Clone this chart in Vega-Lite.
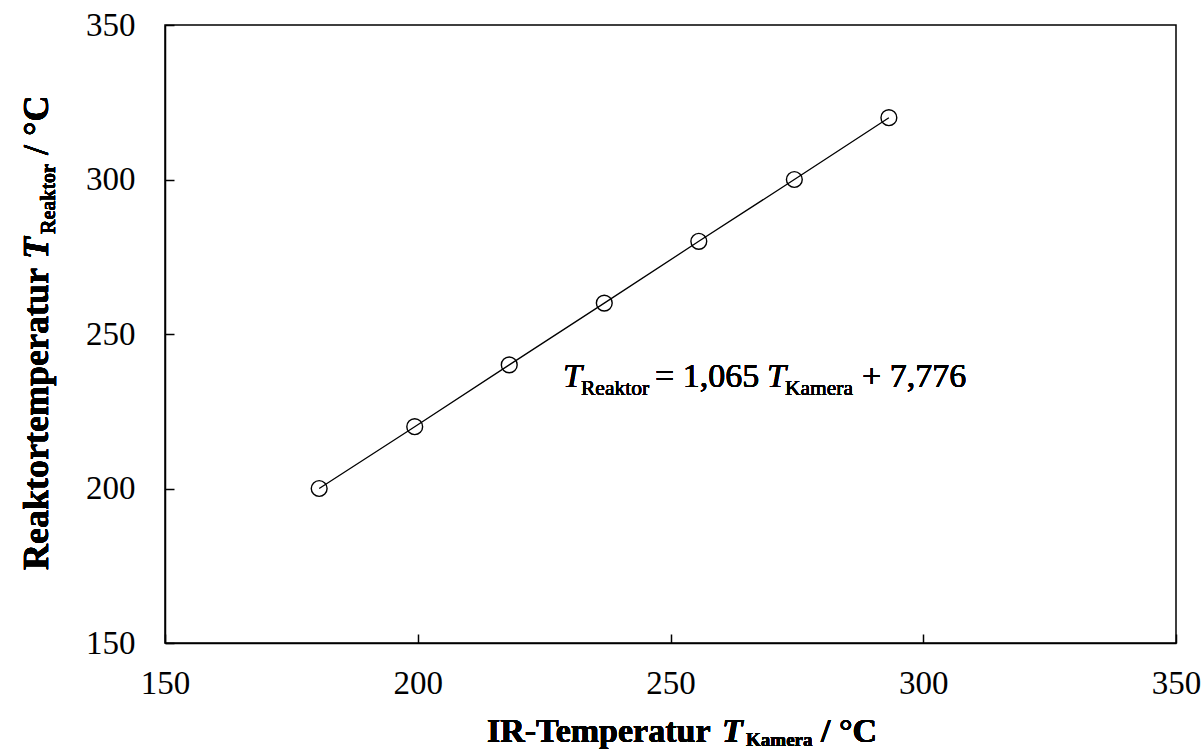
{
  "$schema": "https://vega.github.io/schema/vega-lite/v6.json",
  "width": 1011,
  "height": 618,
  "autosize": "none",
  "padding": {"left": 165, "top": 25, "right": 28, "bottom": 108},
  "background": "white",
  "config": {
    "view": {"stroke": "black", "strokeWidth": 1.5},
    "axis": {
      "domainColor": "black", "domainWidth": 1.5,
      "ticks": true,
      "tickColor": "black", "tickWidth": 1.5, "tickSize": -9,
      "labelFont": "Liberation Serif", "labelFontSize": 33, "labelColor": "black",
      "grid": false, "labelFlush": false, "labelOverlap": false
    },
    "text": {"font": "Liberation Serif", "color": "black"}
  },
  "data": {"values": [
    {"Tk": 180.5, "Tr": 200},
    {"Tk": 199.4, "Tr": 220},
    {"Tk": 218.1, "Tr": 240},
    {"Tk": 236.9, "Tr": 260},
    {"Tk": 255.6, "Tr": 280},
    {"Tk": 274.5, "Tr": 300},
    {"Tk": 293.2, "Tr": 320}
  ]},
  "layer": [
    {
      "mark": {"type": "line", "color": "black", "strokeWidth": 1.3},
      "encoding": {
        "x": {"field": "Tk", "type": "quantitative", "title": null,
              "scale": {"domain": [150, 350], "nice": false, "zero": false},
              "axis": {"values": [150, 200, 250, 300, 350], "labelPadding": 33}},
        "y": {"field": "Tr", "type": "quantitative", "title": null,
              "scale": {"domain": [150, 350], "nice": false, "zero": false},
              "axis": {"values": [150, 200, 250, 300, 350], "labelPadding": 39}}
      }
    },
    {
      "mark": {"type": "point", "shape": "circle", "filled": false, "stroke": "black", "strokeWidth": 1.4, "size": 250, "opacity": 1},
      "encoding": {
        "x": {"field": "Tk", "type": "quantitative", "title": null},
        "y": {"field": "Tr", "type": "quantitative", "title": null}
      }
    },
    {
      "mark": {"type": "text", "text": "T", "fontSize": 34, "fontStyle": "italic", "align": "left", "baseline": "alphabetic"},
      "encoding": {"x": {"datum": 228.73, "title": null}, "y": {"datum": 232.85, "title": null}}
    },
    {
      "mark": {"type": "text", "text": "Reaktor", "fontSize": 21.5, "align": "left", "baseline": "alphabetic", "dy": 8},
      "encoding": {"x": {"datum": 232.3, "title": null}, "y": {"datum": 232.85, "title": null}}
    },
    {
      "mark": {"type": "text", "text": "= 1,065", "fontSize": 34, "align": "left", "baseline": "alphabetic"},
      "encoding": {"x": {"datum": 246.93, "title": null}, "y": {"datum": 232.85, "title": null}}
    },
    {
      "mark": {"type": "text", "text": "T", "fontSize": 34, "fontStyle": "italic", "align": "left", "baseline": "alphabetic"},
      "encoding": {"x": {"datum": 269.09, "title": null}, "y": {"datum": 232.85, "title": null}}
    },
    {
      "mark": {"type": "text", "text": "Kamera", "fontSize": 21.5, "align": "left", "baseline": "alphabetic", "dy": 8},
      "encoding": {"x": {"datum": 272.65, "title": null}, "y": {"datum": 232.85, "title": null}}
    },
    {
      "mark": {"type": "text", "text": "+ 7,776", "fontSize": 34, "align": "left", "baseline": "alphabetic"},
      "encoding": {"x": {"datum": 287.88, "title": null}, "y": {"datum": 232.85, "title": null}}
    },
    {
      "mark": {"type": "text", "text": "IR-Temperatur", "fontSize": 34, "fontWeight": "bold", "align": "left", "baseline": "alphabetic", "dy": 99},
      "encoding": {"x": {"datum": 213.7, "title": null}, "y": {"datum": 150, "title": null}}
    },
    {
      "mark": {"type": "text", "text": "T", "fontSize": 34, "fontWeight": "bold", "fontStyle": "italic", "align": "left", "baseline": "alphabetic", "dy": 99},
      "encoding": {"x": {"datum": 260.19, "title": null}, "y": {"datum": 150, "title": null}}
    },
    {
      "mark": {"type": "text", "text": "Kamera", "fontSize": 19, "fontWeight": "bold", "align": "left", "baseline": "alphabetic", "dy": 103},
      "encoding": {"x": {"datum": 264.94, "title": null}, "y": {"datum": 150, "title": null}}
    },
    {
      "mark": {"type": "text", "text": "/ °C", "fontSize": 34, "fontWeight": "bold", "align": "left", "baseline": "alphabetic", "dy": 99},
      "encoding": {"x": {"datum": 279.77, "title": null}, "y": {"datum": 150, "title": null}}
    },
    {
      "mark": {"type": "text", "text": "Reaktortemperatur", "fontSize": 36, "fontWeight": "bold", "angle": 270, "align": "left", "baseline": "alphabetic", "dy": -117},
      "encoding": {"x": {"datum": 150, "title": null}, "y": {"datum": 173.62, "title": null}}
    },
    {
      "mark": {"type": "text", "text": "T", "fontSize": 36, "fontWeight": "bold", "fontStyle": "italic", "angle": 270, "align": "left", "baseline": "alphabetic", "dy": -117},
      "encoding": {"x": {"datum": 150, "title": null}, "y": {"datum": 274.27, "title": null}}
    },
    {
      "mark": {"type": "text", "text": "Reaktor", "fontSize": 20, "fontWeight": "bold", "angle": 270, "align": "left", "baseline": "alphabetic", "dy": -110},
      "encoding": {"x": {"datum": 150, "title": null}, "y": {"datum": 282.36, "title": null}}
    },
    {
      "mark": {"type": "text", "text": "/ °C", "fontSize": 36, "fontWeight": "bold", "angle": 270, "align": "left", "baseline": "alphabetic", "dy": -117},
      "encoding": {"x": {"datum": 150, "title": null}, "y": {"datum": 307.93, "title": null}}
    }
  ]
}
